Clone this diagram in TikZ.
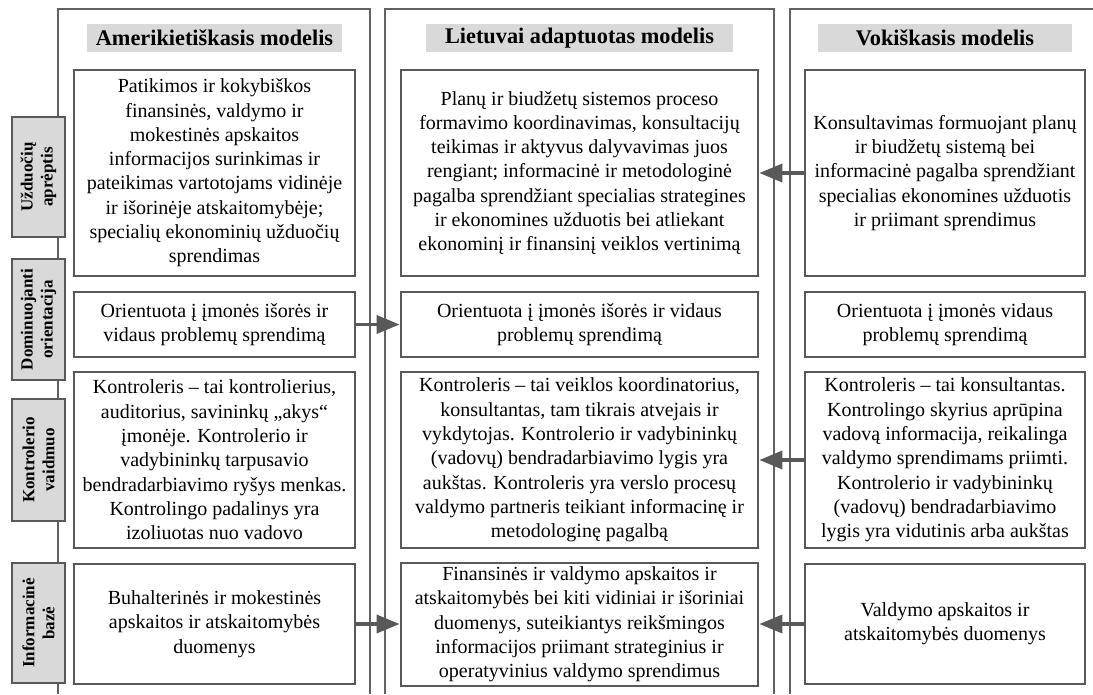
\documentclass[tikz,border=0pt]{standalone}
\usepackage{fontspec}
\setmainfont{Liberation Serif}
\usetikzlibrary{arrows.meta}
\definecolor{framegray}{HTML}{626262}
\definecolor{boxgray}{HTML}{595959}
\definecolor{fillgray}{HTML}{D9D9D9}

\begin{document}
\begin{tikzpicture}[x=1pt,y=-1pt,
  frame/.style={draw=framegray,line width=2.5pt},
  cell/.style={draw=boxgray,line width=2.7pt,fill=white,align=center,inner sep=0pt,
    font=\fontsize{20}{24.3}\selectfont},
  colA/.style={cell,minimum width=281pt},
  colB/.style={cell,minimum width=357pt},
  colC/.style={cell,minimum width=280pt},
  rowI/.style={minimum height=206pt},
  rowII/.style={minimum height=65pt},
  rowIII/.style={minimum height=176pt},
  rowIV/.style={minimum height=120pt},
  head/.style={fill=fillgray,inner sep=0pt,minimum height=28pt,
    font=\fontsize{22.3}{25}\bfseries\selectfont},
  side/.style={draw=boxgray,line width=2.7pt,fill=fillgray,rotate=90,align=center,
    inner sep=0pt,minimum height=53pt,font=\fontsize{17}{20}\bfseries\selectfont},
  arr/.style={draw=boxgray,line width=3.5pt,-{Triangle[length=23pt,width=18pt]}}
]
\useasboundingbox (0,0) rectangle (1093,694);

% open column frames
\draw[frame] (58,694) -- (58,9) -- (370,9) -- (370,694);
\draw[frame] (385,694) -- (385,9) -- (774,9) -- (774,694);
\draw[frame] (790,694) -- (790,9) -- (1093,9);

% column headings
\node[head,minimum width=255pt] (hA) at (214.5,38) {Amerikietiškasis modelis};
\node[head,minimum width=307pt] (hB) at (579.5,38) {Lietuvai adaptuotas modelis};
\node[head,minimum width=254pt] (hC) at (945,38) {Vokiškasis modelis};

% row labels
\node[side,minimum width=120pt] (s1) at (38.5,177) {Užduočių\\aprėptis};
\node[side,minimum width=121pt] (s2) at (38.5,319.5) {Dominuojanti\\orientacija};
\node[side,minimum width=122pt] (s3) at (38.5,460) {Kontrolerio\\vaidmuo};
\node[side,minimum width=120pt] (s4) at (38.5,623) {Informacinė\\bazė};

% American model
\node[colA,rowI] (A1) at (214.5,173) {Patikimos ir kokybiškos\\finansinės, valdymo ir\\mokestinės apskaitos\\informacijos surinkimas ir\\pateikimas vartotojams vidinėje\\ir išorinėje atskaitomybėje;\\specialių ekonominių užduočių\\sprendimas};
\node[colA,rowII] (A2) at (214.5,324.5) {Orientuota į įmonės išorės ir\\vidaus problemų sprendimą};
\node[colA,rowIII] (A3) at (214.5,460) {Kontroleris – tai kontrolierius,\\auditorius, savininkų „akys“\\įmonėje. Kontrolerio ir\\vadybininkų tarpusavio\\bendradarbiavimo ryšys menkas.\\Kontrolingo padalinys yra\\izoliuotas nuo vadovo};
\node[colA,rowIV] (A4) at (214.5,624) {Buhalterinės ir mokestinės\\apskaitos ir atskaitomybės\\duomenys};

% model adapted for Lithuania
\node[colB,rowI] (B1) at (579.5,173) {Planų ir biudžetų sistemos proceso\\formavimo koordinavimas, konsultacijų\\teikimas ir aktyvus dalyvavimas juos\\rengiant; informacinė ir metodologinė\\pagalba sprendžiant specialias strategines\\ir ekonomines užduotis bei atliekant\\ekonominį ir finansinį veiklos vertinimą};
\node[colB,rowII] (B2) at (579.5,324.5) {Orientuota į įmonės išorės ir vidaus\\problemų sprendimą};
\node[colB,rowIII] (B3) at (579.5,460) {Kontroleris – tai veiklos koordinatorius,\\konsultantas, tam tikrais atvejais ir\\vykdytojas. Kontrolerio ir vadybininkų\\(vadovų) bendradarbiavimo lygis yra\\aukštas. Kontroleris yra verslo procesų\\valdymo partneris teikiant informacinę ir\\metodologinę pagalbą};
\node[colB,minimum height=123pt] (B4) at (579.5,624.5) {Finansinės ir valdymo apskaitos ir\\atskaitomybės bei kiti vidiniai ir išoriniai\\duomenys, suteikiantys reikšmingos\\informacijos priimant strateginius ir\\operatyvinius valdymo sprendimus};

% German model
\node[colC,rowI] (C1) at (945,173) {Konsultavimas formuojant planų\\ir biudžetų sistemą bei\\informacinė pagalba sprendžiant\\specialias ekonomines užduotis\\ir priimant sprendimus};
\node[colC,rowII] (C2) at (945,324.5) {Orientuota į įmonės vidaus\\problemų sprendimą};
\node[colC,rowIII] (C3) at (945,460) {Kontroleris – tai konsultantas.\\Kontrolingo skyrius aprūpina\\vadovą informacija, reikalinga\\valdymo sprendimams priimti.\\Kontrolerio ir vadybininkų\\(vadovų) bendradarbiavimo\\lygis yra vidutinis arba aukštas};
\node[colC,rowIV] (C4) at (945,624) {Valdymo apskaitos ir\\atskaitomybės duomenys};

% influences on the adapted model
\draw[arr] (C1.west) -- (B1.east);
\draw[arr] (A2.east) -- (B2.west);
\draw[arr] (C3.west) -- (B3.east);
\draw[arr] (A4.east) -- (A4.east -| B4.west);
\draw[arr] (C4.west) -- (C4.west -| B4.east);
\end{tikzpicture}
\end{document}
